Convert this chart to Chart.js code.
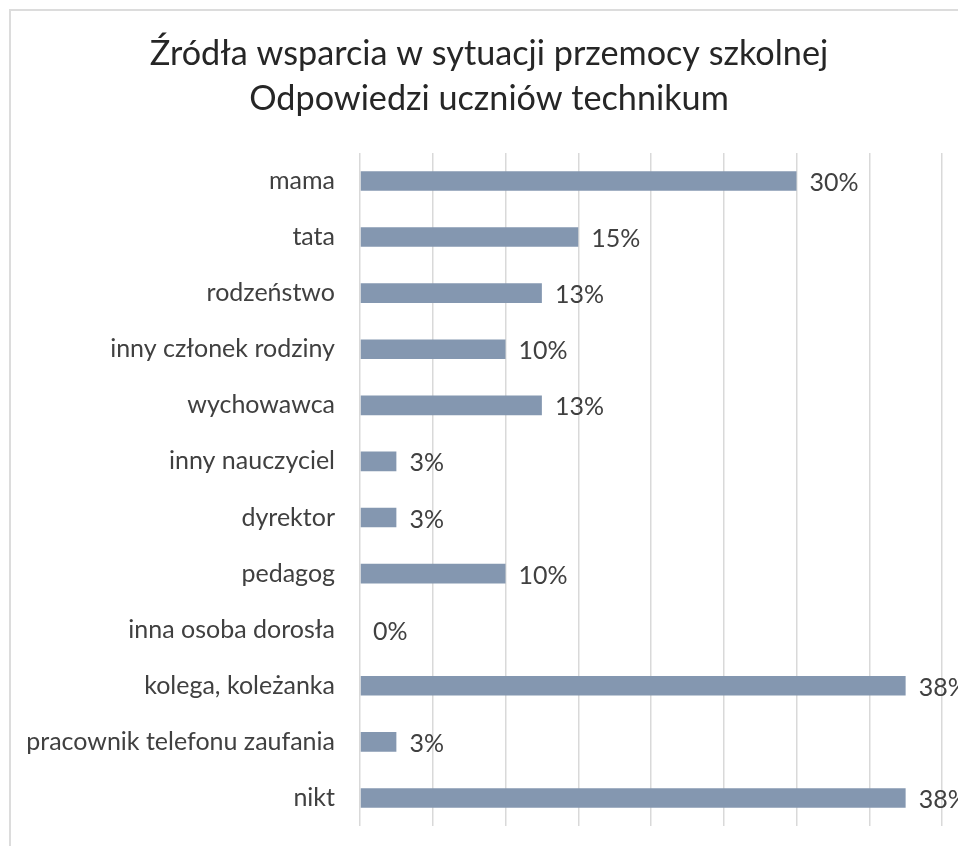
<!DOCTYPE html>
<html lang="pl">
<head>
<meta charset="utf-8">
<title>Źródła wsparcia w sytuacji przemocy szkolnej</title>
<script src="https://cdn.jsdelivr.net/npm/chart.js@4/dist/chart.umd.min.js"></script>
<style>
  html, body { margin: 0; padding: 0; background: #fff; overflow: hidden; }
  #frame {
    position: absolute;
    left: 9px;
    top: 9px;
    width: 980px;
    height: 860px;
    border-left: 2px solid #dcdcdc;
    border-top: 2px solid #dcdcdc;
    background: #fff;
  }
</style>
</head>
<body>
<div id="frame"><canvas id="bar-chart"></canvas></div>
<script>
// kto pomaga uczniom (technikum), odsetek odpowiedzi
let categories = [
  "mama",
  "tata",
  "rodzeństwo",
  "inny członek rodziny",
  "wychowawca",
  "inny nauczyciel",
  "dyrektor",
  "pedagog",
  "inna osoba dorosła",
  "kolega, koleżanka",
  "pracownik telefonu zaufania",
  "nikt",
];
let shares = [30, 15, 12.5, 10, 12.5, 2.5, 2.5, 10, 0, 37.5, 2.5, 37.5];
let titleLines = [
  "Źródła wsparcia w sytuacji przemocy szkolnej",
  "Odpowiedzi uczniów technikum",
];

let barColor = "#8497b0";
let textColor = "#404040";
let fontName = "Lato, 'Open Sans', sans-serif";

// podpisy wartości na końcu słupków
let valueLabels = {
  id: "valueLabels",
  afterDatasetsDraw(chart) {
    let ctx = chart.ctx;
    let meta = chart.getDatasetMeta(0);
    ctx.save();
    ctx.font = "25px " + fontName;
    ctx.fillStyle = textColor;
    ctx.textAlign = "left";
    ctx.textBaseline = "middle";
    meta.data.forEach((bar, i) => {
      let v = chart.data.datasets[0].data[i];
      ctx.fillText(Math.round(v) + "%", bar.x + 13, bar.y + 2);
    });
    ctx.restore();
  },
};

// długie etykiety kategorii wchodzą w lewy margines - nie przycinać ich
let wideLabels = {
  id: "wideLabels",
  afterLayout(chart) {
    chart.scales.y.left = 0;
  },
};

let renderChart = () => {
  let el = document.getElementById("bar-chart");

  new Chart(el, {
    type: "bar",
    plugins: [valueLabels, wideLabels],
    data: {
      labels: categories,
      datasets: [
        {
          data: shares,
          backgroundColor: barColor,
          borderWidth: 0,
          barPercentage: 0.35,
          categoryPercentage: 1,
        },
      ],
    },
    options: {
      indexAxis: "y",
      responsive: true,
      maintainAspectRatio: false,
      animation: false,
      layout: {
        padding: { left: 25, right: 49, top: 0, bottom: 45 },
      },
      plugins: {
        legend: { display: false },
        tooltip: { enabled: false },
        title: {
          display: true,
          text: titleLines,
          color: "#262626",
          font: { family: fontName, size: 34.2, weight: "normal", lineHeight: 1.3 },
          padding: { top: 21, bottom: 32 },
        },
      },
      scales: {
        x: {
          min: 0,
          max: 40,
          ticks: { display: false, stepSize: 5 },
          grid: { color: "#d9d9d9", lineWidth: 1.5, drawTicks: false },
          border: { display: false },
          afterFit: (scale) => {
            scale.height = 0;
          },
        },
        y: {
          grid: { display: false, drawTicks: false },
          border: { display: false },
          ticks: {
            color: textColor,
            padding: 25,
            font: { family: fontName, size: 25 },
          },
          afterFit: (scale) => {
            scale.width = 324;
          },
        },
      },
    },
  });
};

renderChart();
</script>
</body>
</html>
